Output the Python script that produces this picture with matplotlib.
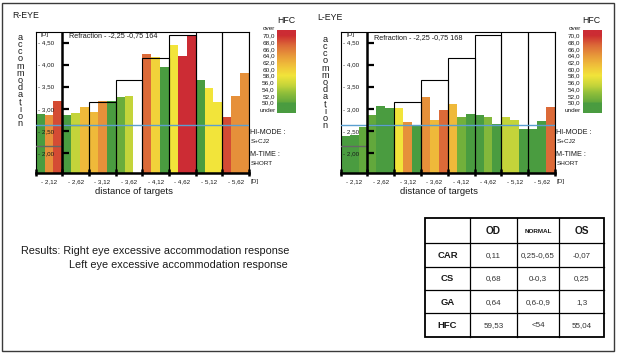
import matplotlib
matplotlib.use('Agg')
import matplotlib.pyplot as plt
import numpy as np
from matplotlib.colors import LinearSegmentedColormap, Normalize
from matplotlib.patches import Rectangle

plt.rcParams['font.family'] = ['Liberation Sans', 'DejaVu Sans']

W, H = 621, 356

# ---- data ----
targets = ['- 2,12', '- 2,62', '- 3,12', '- 3,62', '- 4,12', '- 4,62', '- 5,12', '- 5,62']
target_tops = [2.17, 2.65, 3.17, 3.66, 4.16, 4.68, 5.17, 5.67]
y_levels = [2.0, 2.5, 3.0, 3.5, 4.0, 4.5]
y_level_labels = ['- 2,00', '- 2,50', '- 3,00', '- 3,50', '- 4,00', '- 4,50']
blue_line = 2.65

# 3 bars per target (accommodation response [D]) and their HFC values
r_accommodation = [2.90, 2.86, 3.19,  2.86, 2.92, 3.05,  2.95, 3.19, 3.19,  3.27, 3.31, 0.0,
                   4.26, 4.18, 3.95,  4.46, 4.21, 4.67,  3.66, 3.49, 3.17,  2.82, 3.31, 3.81]
r_hfc = [49, 64.5, 68.5,  49, 55, 61.5,  61.5, 64.5, 49,  50.5, 55, 49,
         67, 59.5, 49,  58, 71, 71,  49, 58, 58,  68.5, 64.5, 64.5]

l_accommodation = [2.39, 2.41, 2.60,  2.86, 3.07, 3.03,  3.03, 2.71, 2.65,  3.27, 2.76, 2.98,
                   3.11, 2.82, 2.89,  2.86, 2.82, 2.67,  2.82, 2.76, 2.56,  2.56, 2.73, 3.05]
l_hfc = [49, 49, 50,  50, 49, 49,  58, 64.5, 49,  64.5, 61.5, 67,
         61.5, 51, 49,  49, 52, 49,  55, 55, 49,  49, 49, 67]

hfc_levels = [50, 52, 54, 56, 58, 60, 62, 64, 66, 68, 70]
hfc_labels = ['50,0', '52,0', '54,0', '56,0', '58,0', '60,0', '62,0', '64,0', '66,0', '68,0', '70,0']

table_cols = ['OD', 'NORMAL', 'OS']
table_rows = ['CAR', 'CS', 'GA', 'HFC']
table_od = ['0,11', '0,68', '0,64', '59,53']
table_normal = ['0,25-0,65', '0-0,3', '0,6-0,9', '<54']
table_os = ['-0,07', '0,25', '1,3', '55,04']

results_1 = 'Results: Right eye excessive accommodation response'
results_2 = 'Left eye excessive accommodation response'

# HFC colour scale
hfc_cmap = LinearSegmentedColormap.from_list('hfc', [
    (0.0, '#62a83c'), (0.15, '#94c03a'), (0.25, '#c4d43a'), (0.4, '#f2e43a'),
    (0.55, '#f0c03a'), (0.7, '#e8983a'), (0.85, '#dc6a38'), (1.0, '#cc2c30')])
hfc_cmap.set_under('#4a9c40')
hfc_cmap.set_over('#cc2c34')
hfc_norm = Normalize(50, 70)

Y0, Y1 = 1.552, 4.76
TXT = '#1a1a1a'


def fig_box(x0, x1, top, bottom):
    return [x0 / W, 1 - bottom / H, (x1 - x0) / W, (bottom - top) / H]


def draw_eye(fig, bg, px0, px1, values, hfc, cbar_x, title, title_xy, refr, refr_xy, acc_x, acc_y):
    ax = fig.add_axes(fig_box(px0, px1, 31.5, 173.3))
    ax.set_xlim(0, 8)
    ax.set_ylim(Y0, Y1)
    ax.set_xticks([])
    ax.set_yticks([])
    for s in ['left', 'top', 'right']:
        ax.spines[s].set_linewidth(0.8)
    ax.spines['bottom'].set_linewidth(1.8)

    x = np.array([i + (j + 0.5) / 3 for i in range(8) for j in range(3)])
    vals = np.array(values)
    colors = hfc_cmap(hfc_norm(np.array(hfc)))
    ax.bar(x, np.clip(vals - Y0, 0, None), bottom=Y0, width=1 / 3, color=colors, linewidth=0, zorder=2)

    # target steps
    ax.plot([0, 1], [target_tops[0]] * 2, color='#666666', lw=1.0, zorder=3)
    for i in range(1, 8):
        ax.add_patch(Rectangle((i, Y0), 1, target_tops[i] - Y0, fill=False, edgecolor='black', lw=0.8, zorder=3))
    ax.axhline(blue_line, color='#5b9fd0', lw=1.0, zorder=4)

    # y axis with ticks
    ax.axvline(1, color='black', lw=1.8, zorder=5)
    for lv, lb in zip(y_levels, y_level_labels):
        ax.plot([1, 1.24], [lv, lv], color='black', lw=1.6, zorder=5, solid_capstyle='butt')
        ax.text(0.69, lv, lb, ha='right', va='center', fontsize=4.5, color=TXT, zorder=6)
    ax.text(0.35, 4.70, '[D]', ha='center', va='center', fontsize=4.5, color=TXT)
    for i in range(9):
        ax.plot([i, i], [Y0 - 0.05, Y0 + 0.1], color='black', lw=1.8, zorder=5, clip_on=False,
                solid_capstyle='butt')
    for i, t in enumerate(targets):
        ax.text(i + 0.5, Y0 - 0.195, t, ha='center', va='center', fontsize=4.5, color=TXT)
    ax.text(8.04, Y0 - 0.195, '[D]', ha='left', va='center', fontsize=4.5, color=TXT)

    # HFC colour bar
    cax = fig.add_axes(fig_box(cbar_x, cbar_x + 19, 30.5, 113))
    lo, hi = 46.9, 71.5
    cax.imshow(np.linspace(lo, hi, 300)[:, None], cmap=hfc_cmap, norm=hfc_norm, aspect='auto',
               origin='lower', extent=[0, 1, lo, hi])
    cax.set_xlim(0, 1)
    cax.set_ylim(lo, hi)
    cax.set_xticks([])
    cax.set_yticks(hfc_levels)
    cax.set_yticklabels(hfc_labels, fontsize=4.6, color=TXT)
    cax.tick_params(axis='y', length=0, pad=1.8)
    for s in cax.spines.values():
        s.set_visible(False)
    cax.text(-0.1, 72.1, 'over', ha='right', va='center', fontsize=4.6, color=TXT)
    cax.text(-0.1, 47.5, 'under', ha='right', va='center', fontsize=4.6, color=TXT)
    cax.text(0.45, 74.5, 'HFC', ha='center', va='center', fontsize=6.3, color=TXT)

    # labels around the chart
    bg.text(title_xy[0], title_xy[1], title, ha='left', va='center', fontsize=6.3, color=TXT)
    bg.text(refr_xy[0], refr_xy[1], 'Refraction - ' + refr, ha='left', va='center', fontsize=5.2, color=TXT)
    # stacked vertical axis title
    bg.text(acc_x, (acc_y[0] + acc_y[1]) / 2, '\n'.join('accommodation'), ha='center', va='center',
            multialignment='center', fontsize=6.6, linespacing=0.74, color=TXT)
    side_x = px1 + 1.5
    bg.text(side_x, 132.5, 'HI-MODE :', ha='left', va='center', fontsize=5.2, color=TXT)
    bg.text(side_x, 141.5, 'S+CJ2', ha='left', va='center', fontsize=4.6, color=TXT)
    bg.text(side_x, 154.5, 'M-TIME :', ha='left', va='center', fontsize=5.2, color=TXT)
    bg.text(side_x, 163.8, 'SHORT', ha='left', va='center', fontsize=4.6, color=TXT)
    bg.text((px0 + px1) / 2 - 8.5, 192, 'distance of targets', ha='center', va='center', fontsize=6.8,
            color=TXT)
    return ax


fig = plt.figure(figsize=(W / 100, H / 100), dpi=100)
bg = fig.add_axes([0, 0, 1, 1], zorder=10)
bg.set_xlim(0, W)
bg.set_ylim(H, 0)
bg.axis('off')
bg.patch.set_alpha(0)

draw_eye(fig, bg, 35.7, 249, r_accommodation, r_hfc, 277.3, 'R-EYE', (12, 16),
         '-2,25 -0,75 164', (69.3, 35.5), 20, (35, 126))
draw_eye(fig, bg, 340.7, 555, l_accommodation, l_hfc, 583, 'L-EYE', (317, 18),
         '-2,25 -0,75 168', (374.3, 37.5), 325, (38, 127))

# results text
bg.text(20.7, 250.7, results_1, ha='left', va='center', fontsize=7.8, color=TXT)
bg.text(69, 265, results_2, ha='left', va='center', fontsize=7.8, color=TXT)

# summary table
col_x = [425, 470, 516.7, 559.3, 604]
row_y = [218.3, 243.3, 266.7, 290, 313.3, 336.7]
bg.add_patch(Rectangle((col_x[0], row_y[0]), col_x[-1] - col_x[0], row_y[-1] - row_y[0],
                       fill=False, edgecolor='black', lw=1.3))
for cx in col_x[1:-1]:
    bg.plot([cx, cx], [row_y[0], row_y[-1]], color='black', lw=0.9)
for ry in row_y[1:-1]:
    bg.plot([col_x[0], col_x[-1]], [ry, ry], color='black', lw=0.9)
head_sizes = [7.3, 4.6, 7.3]
for c, name in enumerate(table_cols):
    bg.text((col_x[c + 1] + col_x[c + 2]) / 2, (row_y[0] + row_y[1]) / 2 + 0.5, name, ha='center',
            va='center', fontsize=head_sizes[c], fontweight='bold', color=TXT)
for r, name in enumerate(table_rows):
    yc = (row_y[r + 1] + row_y[r + 2]) / 2 + 0.5
    bg.text((col_x[0] + col_x[1]) / 2, yc, name, ha='center', va='center', fontsize=6.8,
            fontweight='bold', color=TXT)
    for c, col in enumerate([table_od, table_normal, table_os]):
        bg.text((col_x[c + 1] + col_x[c + 2]) / 2, yc, col[r], ha='center', va='center',
                fontsize=5.8, color='#333333')

# outer frame
bg.add_patch(Rectangle((1.7, 2.7), 612.3, 348, fill=False, edgecolor='#3a3a3a', lw=1.0))

plt.savefig('out.png', dpi=100)
